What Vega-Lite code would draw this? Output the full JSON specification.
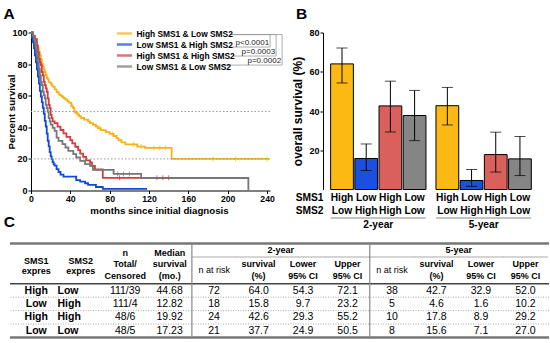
{
  "$schema": "https://vega.github.io/schema/vega-lite/v6.json",
  "padding": {"left": 3, "top": 6.5, "right": 0, "bottom": 0},
  "background": "white",
  "config": {
    "view": {"stroke": null},
    "font": "Liberation Sans",
    "axis": {"labelFont": "Liberation Sans", "titleFont": "Liberation Sans", "labelFontWeight": "bold", "titleFontWeight": "bold", "domainColor": "#000", "tickColor": "#000", "labelColor": "#000", "titleColor": "#000", "grid": false, "domainWidth": 1, "tickWidth": 1, "labelOverlap": false},
    "axisX": {"labelOverlap": false},
    "axisY": {"labelOverlap": false},
    "axisQuantitative": {"labelOverlap": false},
    "title": {"font": "Liberation Sans", "fontSize": 15.5, "fontWeight": "bold", "anchor": "start", "frame": "bounds", "color": "#000", "offset": 6},
    "text": {"font": "Liberation Sans", "color": "#000"}
  },
  "datasets": {
    "km": [
      {"group": "High SMS1 & Low SMS2", "month": 0, "survival": 100},
      {"group": "High SMS1 & Low SMS2", "month": 2, "survival": 98.2},
      {"group": "High SMS1 & Low SMS2", "month": 3, "survival": 97.3},
      {"group": "High SMS1 & Low SMS2", "month": 4, "survival": 95.5},
      {"group": "High SMS1 & Low SMS2", "month": 5, "survival": 93.7},
      {"group": "High SMS1 & Low SMS2", "month": 6, "survival": 91.9},
      {"group": "High SMS1 & Low SMS2", "month": 7, "survival": 90.1},
      {"group": "High SMS1 & Low SMS2", "month": 8, "survival": 87.4},
      {"group": "High SMS1 & Low SMS2", "month": 9, "survival": 85.6},
      {"group": "High SMS1 & Low SMS2", "month": 10, "survival": 82.9},
      {"group": "High SMS1 & Low SMS2", "month": 11, "survival": 80.2},
      {"group": "High SMS1 & Low SMS2", "month": 12, "survival": 78.4},
      {"group": "High SMS1 & Low SMS2", "month": 13, "survival": 76.6},
      {"group": "High SMS1 & Low SMS2", "month": 14, "survival": 74.8},
      {"group": "High SMS1 & Low SMS2", "month": 15, "survival": 73.0},
      {"group": "High SMS1 & Low SMS2", "month": 16, "survival": 71.2},
      {"group": "High SMS1 & Low SMS2", "month": 17, "survival": 70.3},
      {"group": "High SMS1 & Low SMS2", "month": 18, "survival": 68.5},
      {"group": "High SMS1 & Low SMS2", "month": 20, "survival": 67.6},
      {"group": "High SMS1 & Low SMS2", "month": 21, "survival": 66.7},
      {"group": "High SMS1 & Low SMS2", "month": 22, "survival": 65.8},
      {"group": "High SMS1 & Low SMS2", "month": 24, "survival": 64.0},
      {"group": "High SMS1 & Low SMS2", "month": 26, "survival": 62.2},
      {"group": "High SMS1 & Low SMS2", "month": 28, "survival": 61.3},
      {"group": "High SMS1 & Low SMS2", "month": 29, "survival": 60.4},
      {"group": "High SMS1 & Low SMS2", "month": 31, "survival": 59.5},
      {"group": "High SMS1 & Low SMS2", "month": 33, "survival": 58.5},
      {"group": "High SMS1 & Low SMS2", "month": 35, "survival": 57.5},
      {"group": "High SMS1 & Low SMS2", "month": 37, "survival": 56.4},
      {"group": "High SMS1 & Low SMS2", "month": 39, "survival": 55.4},
      {"group": "High SMS1 & Low SMS2", "month": 41, "survival": 53.3},
      {"group": "High SMS1 & Low SMS2", "month": 43, "survival": 52.2},
      {"group": "High SMS1 & Low SMS2", "month": 44, "survival": 50.1},
      {"group": "High SMS1 & Low SMS2", "month": 45, "survival": 49.1},
      {"group": "High SMS1 & Low SMS2", "month": 47, "survival": 48.0},
      {"group": "High SMS1 & Low SMS2", "month": 49, "survival": 46.9},
      {"group": "High SMS1 & Low SMS2", "month": 51, "survival": 45.9},
      {"group": "High SMS1 & Low SMS2", "month": 54, "survival": 44.8},
      {"group": "High SMS1 & Low SMS2", "month": 58, "survival": 43.7},
      {"group": "High SMS1 & Low SMS2", "month": 60, "survival": 42.7},
      {"group": "High SMS1 & Low SMS2", "month": 63, "survival": 41.6},
      {"group": "High SMS1 & Low SMS2", "month": 66, "survival": 40.5},
      {"group": "High SMS1 & Low SMS2", "month": 68, "survival": 39.4},
      {"group": "High SMS1 & Low SMS2", "month": 71, "survival": 38.2},
      {"group": "High SMS1 & Low SMS2", "month": 76, "survival": 37.0},
      {"group": "High SMS1 & Low SMS2", "month": 80, "survival": 35.8},
      {"group": "High SMS1 & Low SMS2", "month": 84, "survival": 34.5},
      {"group": "High SMS1 & Low SMS2", "month": 87, "survival": 33.2},
      {"group": "High SMS1 & Low SMS2", "month": 89, "survival": 31.8},
      {"group": "High SMS1 & Low SMS2", "month": 92, "survival": 30.5},
      {"group": "High SMS1 & Low SMS2", "month": 96, "survival": 29.2},
      {"group": "High SMS1 & Low SMS2", "month": 108, "survival": 27.8},
      {"group": "High SMS1 & Low SMS2", "month": 116, "survival": 27.0},
      {"group": "High SMS1 & Low SMS2", "month": 143, "survival": 20.0},
      {"group": "High SMS1 & Low SMS2", "month": 242, "survival": 20.0},
      {"group": "Low SMS1 & High SMS2", "month": 0, "survival": 100},
      {"group": "Low SMS1 & High SMS2", "month": 1, "survival": 96.4},
      {"group": "Low SMS1 & High SMS2", "month": 2, "survival": 93.7},
      {"group": "Low SMS1 & High SMS2", "month": 3, "survival": 90.1},
      {"group": "Low SMS1 & High SMS2", "month": 4, "survival": 85.6},
      {"group": "Low SMS1 & High SMS2", "month": 5, "survival": 81.1},
      {"group": "Low SMS1 & High SMS2", "month": 6, "survival": 76.6},
      {"group": "Low SMS1 & High SMS2", "month": 7, "survival": 72.1},
      {"group": "Low SMS1 & High SMS2", "month": 8, "survival": 67.6},
      {"group": "Low SMS1 & High SMS2", "month": 9, "survival": 63.1},
      {"group": "Low SMS1 & High SMS2", "month": 10, "survival": 59.5},
      {"group": "Low SMS1 & High SMS2", "month": 11, "survival": 55.9},
      {"group": "Low SMS1 & High SMS2", "month": 12, "survival": 52.3},
      {"group": "Low SMS1 & High SMS2", "month": 13, "survival": 48.6},
      {"group": "Low SMS1 & High SMS2", "month": 14, "survival": 44.1},
      {"group": "Low SMS1 & High SMS2", "month": 15, "survival": 40.5},
      {"group": "Low SMS1 & High SMS2", "month": 16, "survival": 36.0},
      {"group": "Low SMS1 & High SMS2", "month": 17, "survival": 31.5},
      {"group": "Low SMS1 & High SMS2", "month": 18, "survival": 27.9},
      {"group": "Low SMS1 & High SMS2", "month": 19, "survival": 24.3},
      {"group": "Low SMS1 & High SMS2", "month": 20, "survival": 21.6},
      {"group": "Low SMS1 & High SMS2", "month": 21, "survival": 19.8},
      {"group": "Low SMS1 & High SMS2", "month": 22, "survival": 18.0},
      {"group": "Low SMS1 & High SMS2", "month": 23, "survival": 16.7},
      {"group": "Low SMS1 & High SMS2", "month": 24, "survival": 15.8},
      {"group": "Low SMS1 & High SMS2", "month": 26, "survival": 13.5},
      {"group": "Low SMS1 & High SMS2", "month": 28, "survival": 11.7},
      {"group": "Low SMS1 & High SMS2", "month": 30, "survival": 10.0},
      {"group": "Low SMS1 & High SMS2", "month": 33, "survival": 8.8},
      {"group": "Low SMS1 & High SMS2", "month": 46, "survival": 6.6},
      {"group": "Low SMS1 & High SMS2", "month": 50, "survival": 5.6},
      {"group": "Low SMS1 & High SMS2", "month": 55, "survival": 4.6},
      {"group": "Low SMS1 & High SMS2", "month": 58, "survival": 3.5},
      {"group": "Low SMS1 & High SMS2", "month": 66, "survival": 2.2},
      {"group": "Low SMS1 & High SMS2", "month": 73, "survival": 1.0},
      {"group": "Low SMS1 & High SMS2", "month": 118, "survival": 1.0},
      {"group": "High SMS1 & High SMS2", "month": 0, "survival": 100},
      {"group": "High SMS1 & High SMS2", "month": 2, "survival": 97.9},
      {"group": "High SMS1 & High SMS2", "month": 4, "survival": 95.8},
      {"group": "High SMS1 & High SMS2", "month": 6, "survival": 91.7},
      {"group": "High SMS1 & High SMS2", "month": 7, "survival": 87.5},
      {"group": "High SMS1 & High SMS2", "month": 8, "survival": 83.3},
      {"group": "High SMS1 & High SMS2", "month": 9, "survival": 81.3},
      {"group": "High SMS1 & High SMS2", "month": 10, "survival": 79.2},
      {"group": "High SMS1 & High SMS2", "month": 11, "survival": 75.0},
      {"group": "High SMS1 & High SMS2", "month": 12, "survival": 72.9},
      {"group": "High SMS1 & High SMS2", "month": 13, "survival": 68.8},
      {"group": "High SMS1 & High SMS2", "month": 14, "survival": 66.7},
      {"group": "High SMS1 & High SMS2", "month": 15, "survival": 64.6},
      {"group": "High SMS1 & High SMS2", "month": 16, "survival": 62.5},
      {"group": "High SMS1 & High SMS2", "month": 17, "survival": 58.3},
      {"group": "High SMS1 & High SMS2", "month": 18, "survival": 54.2},
      {"group": "High SMS1 & High SMS2", "month": 19, "survival": 52.1},
      {"group": "High SMS1 & High SMS2", "month": 20, "survival": 47.9},
      {"group": "High SMS1 & High SMS2", "month": 21, "survival": 45.8},
      {"group": "High SMS1 & High SMS2", "month": 22, "survival": 43.8},
      {"group": "High SMS1 & High SMS2", "month": 24, "survival": 42.6},
      {"group": "High SMS1 & High SMS2", "month": 27, "survival": 40.4},
      {"group": "High SMS1 & High SMS2", "month": 30, "survival": 38.3},
      {"group": "High SMS1 & High SMS2", "month": 33, "survival": 36.2},
      {"group": "High SMS1 & High SMS2", "month": 36, "survival": 34.0},
      {"group": "High SMS1 & High SMS2", "month": 40, "survival": 31.9},
      {"group": "High SMS1 & High SMS2", "month": 42, "survival": 29.8},
      {"group": "High SMS1 & High SMS2", "month": 45, "survival": 27.7},
      {"group": "High SMS1 & High SMS2", "month": 48, "survival": 25.5},
      {"group": "High SMS1 & High SMS2", "month": 50, "survival": 23.4},
      {"group": "High SMS1 & High SMS2", "month": 53, "survival": 21.3},
      {"group": "High SMS1 & High SMS2", "month": 56, "survival": 19.1},
      {"group": "High SMS1 & High SMS2", "month": 60, "survival": 17.8},
      {"group": "High SMS1 & High SMS2", "month": 62, "survival": 15.6},
      {"group": "High SMS1 & High SMS2", "month": 65, "survival": 13.3},
      {"group": "High SMS1 & High SMS2", "month": 73, "survival": 8.0},
      {"group": "High SMS1 & High SMS2", "month": 155, "survival": 8.0},
      {"group": "Low SMS1 & Low SMS2", "month": 0, "survival": 100},
      {"group": "Low SMS1 & Low SMS2", "month": 2, "survival": 97.9},
      {"group": "Low SMS1 & Low SMS2", "month": 3, "survival": 95.8},
      {"group": "Low SMS1 & Low SMS2", "month": 4, "survival": 93.8},
      {"group": "Low SMS1 & Low SMS2", "month": 5, "survival": 89.6},
      {"group": "Low SMS1 & Low SMS2", "month": 6, "survival": 85.4},
      {"group": "Low SMS1 & Low SMS2", "month": 7, "survival": 81.3},
      {"group": "Low SMS1 & Low SMS2", "month": 8, "survival": 77.1},
      {"group": "Low SMS1 & Low SMS2", "month": 9, "survival": 72.9},
      {"group": "Low SMS1 & Low SMS2", "month": 10, "survival": 68.8},
      {"group": "Low SMS1 & Low SMS2", "month": 11, "survival": 66.7},
      {"group": "Low SMS1 & Low SMS2", "month": 12, "survival": 62.5},
      {"group": "Low SMS1 & Low SMS2", "month": 13, "survival": 60.4},
      {"group": "Low SMS1 & Low SMS2", "month": 14, "survival": 58.3},
      {"group": "Low SMS1 & Low SMS2", "month": 15, "survival": 54.2},
      {"group": "Low SMS1 & Low SMS2", "month": 16, "survival": 52.1},
      {"group": "Low SMS1 & Low SMS2", "month": 17, "survival": 50.0},
      {"group": "Low SMS1 & Low SMS2", "month": 18, "survival": 45.8},
      {"group": "Low SMS1 & Low SMS2", "month": 19, "survival": 43.8},
      {"group": "Low SMS1 & Low SMS2", "month": 20, "survival": 41.7},
      {"group": "Low SMS1 & Low SMS2", "month": 22, "survival": 39.6},
      {"group": "Low SMS1 & Low SMS2", "month": 24, "survival": 37.7},
      {"group": "Low SMS1 & Low SMS2", "month": 26, "survival": 33.5},
      {"group": "Low SMS1 & Low SMS2", "month": 28, "survival": 31.4},
      {"group": "Low SMS1 & Low SMS2", "month": 32, "survival": 29.3},
      {"group": "Low SMS1 & Low SMS2", "month": 35, "survival": 27.2},
      {"group": "Low SMS1 & Low SMS2", "month": 38, "survival": 25.1},
      {"group": "Low SMS1 & Low SMS2", "month": 43, "survival": 23.0},
      {"group": "Low SMS1 & Low SMS2", "month": 46, "survival": 20.9},
      {"group": "Low SMS1 & Low SMS2", "month": 50, "survival": 18.8},
      {"group": "Low SMS1 & Low SMS2", "month": 55, "survival": 16.7},
      {"group": "Low SMS1 & Low SMS2", "month": 60, "survival": 15.6},
      {"group": "Low SMS1 & Low SMS2", "month": 63, "survival": 13.1},
      {"group": "Low SMS1 & Low SMS2", "month": 84, "survival": 10.5},
      {"group": "Low SMS1 & Low SMS2", "month": 112, "survival": 7.9},
      {"group": "Low SMS1 & Low SMS2", "month": 221, "survival": 0}
    ],
    "censored": [
      {"group": "High SMS1 & Low SMS2", "month": 42, "survival": 53.3},
      {"group": "High SMS1 & Low SMS2", "month": 48, "survival": 48.0},
      {"group": "High SMS1 & Low SMS2", "month": 70, "survival": 39.4},
      {"group": "High SMS1 & Low SMS2", "month": 83, "survival": 35.8},
      {"group": "High SMS1 & Low SMS2", "month": 104, "survival": 29.2},
      {"group": "High SMS1 & Low SMS2", "month": 112, "survival": 27.8},
      {"group": "High SMS1 & Low SMS2", "month": 125, "survival": 27.0},
      {"group": "High SMS1 & Low SMS2", "month": 131, "survival": 27.0},
      {"group": "High SMS1 & Low SMS2", "month": 137, "survival": 27.0},
      {"group": "High SMS1 & Low SMS2", "month": 185, "survival": 20.0},
      {"group": "High SMS1 & Low SMS2", "month": 208, "survival": 20.0},
      {"group": "High SMS1 & Low SMS2", "month": 240, "survival": 20.0},
      {"group": "High SMS1 & High SMS2", "month": 90, "survival": 8.0},
      {"group": "High SMS1 & High SMS2", "month": 128, "survival": 8.0},
      {"group": "High SMS1 & High SMS2", "month": 134, "survival": 8.0},
      {"group": "High SMS1 & High SMS2", "month": 140, "survival": 8.0},
      {"group": "Low SMS1 & Low SMS2", "month": 88, "survival": 10.5},
      {"group": "Low SMS1 & Low SMS2", "month": 94, "survival": 10.5},
      {"group": "Low SMS1 & Low SMS2", "month": 100, "survival": 10.5}
    ],
    "brackets": [
      {"pvalue": "p<0.0001", "top": 98.7, "yLine": 90.8, "xTopStart": 202.4, "xLabelEnd": 199.4, "xBracket": 243.1},
      {"pvalue": "p=0.0003", "top": 98.7, "yLine": 85.1, "xTopStart": 202.4, "xLabelEnd": 205.5, "xBracket": 249.2},
      {"pvalue": "p=0.0002", "top": 98.7, "yLine": 79.4, "xTopStart": 202.4, "xLabelEnd": 195.3, "xBracket": 255.3}
    ],
    "bars": [
      {"period": "2-year", "group": "High SMS1 & Low SMS2", "sms1": "High", "sms2": "Low", "survival": 64.0, "lower": 54.3, "upper": 72.1},
      {"period": "2-year", "group": "Low SMS1 & High SMS2", "sms1": "Low", "sms2": "High", "survival": 15.8, "lower": 9.7, "upper": 23.2},
      {"period": "2-year", "group": "High SMS1 & High SMS2", "sms1": "High", "sms2": "High", "survival": 42.6, "lower": 29.3, "upper": 55.2},
      {"period": "2-year", "group": "Low SMS1 & Low SMS2", "sms1": "Low", "sms2": "Low", "survival": 37.7, "lower": 24.9, "upper": 50.5},
      {"period": "5-year", "group": "High SMS1 & Low SMS2", "sms1": "High", "sms2": "Low", "survival": 42.7, "lower": 32.9, "upper": 52.0},
      {"period": "5-year", "group": "Low SMS1 & High SMS2", "sms1": "Low", "sms2": "High", "survival": 4.6, "lower": 1.6, "upper": 10.2},
      {"period": "5-year", "group": "High SMS1 & High SMS2", "sms1": "High", "sms2": "High", "survival": 17.8, "lower": 8.9, "upper": 29.2},
      {"period": "5-year", "group": "Low SMS1 & Low SMS2", "sms1": "Low", "sms2": "Low", "survival": 15.6, "lower": 7.1, "upper": 27.0}
    ],
    "cells": [
      {"row": "grp", "col": "l2", "text": "2-year"},
      {"row": "grp", "col": "l5", "text": "5-year"},
      {"row": "hdr", "col": "sms1", "text": "SMS1\nexpres"},
      {"row": "hdr", "col": "sms2", "text": "SMS2\nexpres"},
      {"row": "hdr", "col": "n", "text": "n\nTotal/\nCensored"},
      {"row": "hdr", "col": "median", "text": "Median\nsurvival\n(mo.)"},
      {"row": "hdr", "col": "n2", "text": "n at risk"},
      {"row": "hdr", "col": "s2", "text": "survival\n(%)"},
      {"row": "hdr", "col": "l2", "text": "Lower\n95% CI"},
      {"row": "hdr", "col": "u2", "text": "Upper\n95% CI"},
      {"row": "hdr", "col": "n5", "text": "n at risk"},
      {"row": "hdr", "col": "s5", "text": "survival\n(%)"},
      {"row": "hdr", "col": "l5", "text": "Lower\n95% CI"},
      {"row": "hdr", "col": "u5", "text": "Upper\n95% CI"},
      {"row": "r1", "col": "sms1", "text": "High"},
      {"row": "r1", "col": "sms2", "text": "Low"},
      {"row": "r1", "col": "n", "text": "111/39"},
      {"row": "r1", "col": "median", "text": "44.68"},
      {"row": "r1", "col": "n2", "text": "72"},
      {"row": "r1", "col": "s2", "text": "64.0"},
      {"row": "r1", "col": "l2", "text": "54.3"},
      {"row": "r1", "col": "u2", "text": "72.1"},
      {"row": "r1", "col": "n5", "text": "38"},
      {"row": "r1", "col": "s5", "text": "42.7"},
      {"row": "r1", "col": "l5", "text": "32.9"},
      {"row": "r1", "col": "u5", "text": "52.0"},
      {"row": "r2", "col": "sms1", "text": "Low"},
      {"row": "r2", "col": "sms2", "text": "High"},
      {"row": "r2", "col": "n", "text": "111/4"},
      {"row": "r2", "col": "median", "text": "12.82"},
      {"row": "r2", "col": "n2", "text": "18"},
      {"row": "r2", "col": "s2", "text": "15.8"},
      {"row": "r2", "col": "l2", "text": "9.7"},
      {"row": "r2", "col": "u2", "text": "23.2"},
      {"row": "r2", "col": "n5", "text": "5"},
      {"row": "r2", "col": "s5", "text": "4.6"},
      {"row": "r2", "col": "l5", "text": "1.6"},
      {"row": "r2", "col": "u5", "text": "10.2"},
      {"row": "r3", "col": "sms1", "text": "High"},
      {"row": "r3", "col": "sms2", "text": "High"},
      {"row": "r3", "col": "n", "text": "48/6"},
      {"row": "r3", "col": "median", "text": "19.92"},
      {"row": "r3", "col": "n2", "text": "24"},
      {"row": "r3", "col": "s2", "text": "42.6"},
      {"row": "r3", "col": "l2", "text": "29.3"},
      {"row": "r3", "col": "u2", "text": "55.2"},
      {"row": "r3", "col": "n5", "text": "10"},
      {"row": "r3", "col": "s5", "text": "17.8"},
      {"row": "r3", "col": "l5", "text": "8.9"},
      {"row": "r3", "col": "u5", "text": "29.2"},
      {"row": "r4", "col": "sms1", "text": "Low"},
      {"row": "r4", "col": "sms2", "text": "Low"},
      {"row": "r4", "col": "n", "text": "48/5"},
      {"row": "r4", "col": "median", "text": "17.23"},
      {"row": "r4", "col": "n2", "text": "21"},
      {"row": "r4", "col": "s2", "text": "37.7"},
      {"row": "r4", "col": "l2", "text": "24.9"},
      {"row": "r4", "col": "u2", "text": "50.5"},
      {"row": "r4", "col": "n5", "text": "8"},
      {"row": "r4", "col": "s5", "text": "15.6"},
      {"row": "r4", "col": "l5", "text": "7.1"},
      {"row": "r4", "col": "u5", "text": "27.0"}
    ]
  },
  "vconcat": [
    {
      "spacing": -8,
      "hconcat": [
        {
          "width": 1,
          "height": 1,
          "data": {"name": "bars"},
          "transform": [{"filter": "false"}],
          "mark": {"type": "point", "opacity": 0},
          "encoding": {}
        },
        {
          "spacing": 8,
          "hconcat": [
            {
              "width": 239,
              "height": 158,
              "title": {"text": "A", "dx": -3},
              "encoding": {
                "x": {"type": "quantitative", "scale": {"domain": [0, 243], "nice": false},
                  "axis": {"values": [0, 40, 80, 120, 160, 200, 240], "title": "months since initial diagnosis", "labelFontSize": 8.7, "titleFontSize": 9.7, "tickSize": 3, "labelPadding": 1, "titlePadding": 2, "titleX": 128, "labelFlush": false, "labelOverlap": false, "labelBound": false}},
                "y": {"type": "quantitative", "scale": {"domain": [0, 100], "nice": false},
                  "axis": {"values": [0, 20, 40, 60, 80, 100], "title": "Percent survival", "labelFontSize": 9, "titleFontSize": 9.7, "tickSize": 3, "labelPadding": 1, "titlePadding": -4.5, "labelOverlap": false, "labelBound": false}}
              },
              "layer": [
                {
                  "data": {"name": "km"},
                  "mark": {"type": "line", "interpolate": "step-after", "strokeWidth": 1.8},
                  "encoding": {
                    "x": {"field": "month", "type": "quantitative"},
                    "y": {"field": "survival", "type": "quantitative"},
                    "color": {"field": "group", "type": "nominal",
                      "scale": {"domain": ["High SMS1 & Low SMS2", "Low SMS1 & High SMS2", "High SMS1 & High SMS2", "Low SMS1 & Low SMS2"], "range": ["#F5B21A", "#1247DB", "#D33C3C", "#777777"]},
                      "legend": {"orient": "none", "legendX": 88, "legendY": -4.5, "title": null, "symbolType": "M-1.9,0H1.9", "symbolStrokeWidth": 2.5, "symbolSize": 64, "labelFontSize": 8.4, "labelFontWeight": "bold", "labelFont": "Liberation Sans", "labelColor": "#000", "rowPadding": -2.5, "labelOffset": 6.5, "labelLimit": 0, "padding": 0}}
                  }
                },
                {
                  "data": {"name": "km"},
                  "transform": [{"filter": "datum.month == 0 && datum.group == 'High SMS1 & Low SMS2'"}],
                  "mark": {"type": "rule", "color": "#9a9a9a", "strokeDash": [1.5, 2], "strokeWidth": 1},
                  "encoding": {"x": null, "y": {"datum": 50, "type": "quantitative"}}
                },
                {
                  "data": {"name": "km"},
                  "transform": [{"filter": "datum.month == 0 && datum.group == 'High SMS1 & Low SMS2'"}],
                  "mark": {"type": "rule", "color": "#9a9a9a", "strokeDash": [1.5, 2], "strokeWidth": 1},
                  "encoding": {"x": null, "y": {"datum": 20, "type": "quantitative"}}
                },
                {
                  "data": {"name": "censored"},
                  "mark": {"type": "tick", "orient": "vertical", "size": 5, "thickness": 1},
                  "encoding": {
                    "x": {"field": "month", "type": "quantitative"},
                    "y": {"field": "survival", "type": "quantitative"},
                    "color": {"field": "group", "type": "nominal"}
                  }
                },
                {
                  "data": {"name": "brackets"},
                  "mark": {"type": "rule", "color": "#999", "strokeWidth": 0.8},
                  "encoding": {"x": {"field": "xBracket", "type": "quantitative"}, "y": {"field": "top", "type": "quantitative"}, "y2": {"field": "yLine"}}
                },
                {
                  "data": {"name": "brackets"},
                  "mark": {"type": "rule", "color": "#999", "strokeWidth": 0.8},
                  "encoding": {"x": {"field": "xLabelEnd", "type": "quantitative"}, "x2": {"field": "xBracket"}, "y": {"field": "yLine", "type": "quantitative"}}
                },
                {
                  "data": {"name": "brackets"},
                  "mark": {"type": "rule", "color": "#999", "strokeWidth": 0.8},
                  "encoding": {"x": {"field": "xTopStart", "type": "quantitative"}, "x2": {"field": "xBracket"}, "y": {"field": "top", "type": "quantitative"}}
                },
                {
                  "data": {"name": "brackets"},
                  "mark": {"type": "text", "align": "right", "baseline": "bottom", "dx": -1, "dy": -0.5, "fontSize": 8, "color": "#222"},
                  "encoding": {"x": {"field": "xBracket", "type": "quantitative"}, "y": {"field": "yLine", "type": "quantitative"}, "text": {"field": "pvalue"}}
                }
              ]
            },
            {
              "bounds": "flush",
              "spacing": 1.5,
              "vconcat": [
                {
                  "width": 211,
                  "height": 157,
                  "title": {"text": "B", "dx": 4},
                  "data": {"name": "bars"},
                  "encoding": {
                    "x": {"field": "period", "type": "nominal", "scale": {"paddingInner": 0.095, "paddingOuter": 0.049, "align": 0.74}, "axis": null},
                    "xOffset": {"field": "group", "type": "nominal", "scale": {"domain": ["High SMS1 & Low SMS2", "Low SMS1 & High SMS2", "High SMS1 & High SMS2", "Low SMS1 & Low SMS2"], "paddingInner": 0.06, "paddingOuter": 0}}
                  },
                  "layer": [
                    {
                      "mark": {"type": "bar", "stroke": "#000", "strokeWidth": 1},
                      "encoding": {
                        "y": {"field": "survival", "type": "quantitative", "scale": {"domain": [0, 80], "nice": false},
                          "axis": {"values": [20, 40, 60, 80], "title": "overall survival (%)", "titleFontSize": 12, "labelFontSize": 9, "tickSize": 3, "labelPadding": 1, "titlePadding": 4, "labelOverlap": false}},
                        "color": {"field": "group", "type": "nominal", "scale": {"domain": ["High SMS1 & Low SMS2", "Low SMS1 & High SMS2", "High SMS1 & High SMS2", "Low SMS1 & Low SMS2"], "range": ["#FDB913", "#1A4FE0", "#D9605B", "#858585"]}, "legend": null}
                      }
                    },
                    {
                      "mark": {"type": "rule", "color": "#000", "strokeWidth": 1},
                      "encoding": {"y": {"field": "lower", "type": "quantitative"}, "y2": {"field": "upper"}}
                    },
                    {
                      "mark": {"type": "tick", "orient": "horizontal", "size": 11, "thickness": 1, "color": "#000"},
                      "encoding": {"y": {"field": "lower", "type": "quantitative"}}
                    },
                    {
                      "mark": {"type": "tick", "orient": "horizontal", "size": 11, "thickness": 1, "color": "#000"},
                      "encoding": {"y": {"field": "upper", "type": "quantitative"}}
                    }
                  ]
                },
                {
                  "width": 211,
                  "height": 40.5,
                  "data": {"name": "bars"},
                  "encoding": {
                    "x": {"field": "period", "type": "nominal", "scale": {"paddingInner": 0.095, "paddingOuter": 0.049, "align": 0.74}, "axis": null}
                  },
                  "layer": [
                    {
                      "mark": {"type": "text", "fontSize": 10.2, "fontWeight": "bold", "baseline": "middle"},
                      "encoding": {
                        "xOffset": {"field": "group", "type": "nominal", "scale": {"domain": ["High SMS1 & Low SMS2", "Low SMS1 & High SMS2", "High SMS1 & High SMS2", "Low SMS1 & Low SMS2"], "paddingInner": 0.06, "paddingOuter": 0}},
                        "y": {"datum": "SMS1", "type": "nominal", "scale": {"domain": ["SMS1", "SMS2", "period"], "paddingInner": 0, "paddingOuter": 0},
                          "axis": {"domain": false, "ticks": false, "tickSize": 0, "labelPadding": 0, "title": null, "labelFontSize": 10.2, "labelOverlap": false, "labelExpr": "datum.value == 'period' ? '' : datum.value"}},
                        "text": {"field": "sms1"}
                      }
                    },
                    {
                      "mark": {"type": "text", "fontSize": 10.2, "fontWeight": "bold", "baseline": "middle"},
                      "encoding": {
                        "xOffset": {"field": "group", "type": "nominal"},
                        "y": {"datum": "SMS2", "type": "nominal"},
                        "text": {"field": "sms2"}
                      }
                    },
                    {
                      "transform": [{"aggregate": [{"op": "count", "as": "n"}], "groupby": ["period"]}],
                      "mark": {"type": "text", "fontSize": 10.2, "fontWeight": "bold", "baseline": "middle"},
                      "encoding": {"y": {"datum": "period", "type": "nominal"}, "text": {"field": "period"}}
                    },
                    {
                      "transform": [{"aggregate": [{"op": "count", "as": "n"}], "groupby": ["period"]}],
                      "mark": {"type": "tick", "orient": "horizontal", "size": 95, "thickness": 1, "color": "#555"},
                      "encoding": {"y": {"datum": "period", "type": "nominal", "bandPosition": 0}}
                    }
                  ]
                }
              ],
              "resolve": {"scale": {"color": "independent"}}
            }
          ],
          "resolve": {"scale": {"color": "independent", "x": "independent", "y": "independent"}}
        }
      ],
      "resolve": {"scale": {"color": "independent", "x": "independent", "y": "independent"}}
    },
    {
      "width": 539,
      "height": 94,
      "title": {"text": "C", "dx": -5, "offset": 12},
      "data": {"name": "cells"},
      "layer": [
        {
          "transform": [{"filter": "indexof(['r1','r2','r3','r4'], datum.row) >= 0 && datum.col != 'sms1' && datum.col != 'sms2'"}],
          "mark": {"type": "text", "fontSize": 10.5, "baseline": "middle"},
          "encoding": {
            "x": {"field": "col", "type": "nominal", "scale": {"domain": ["sms1", "sms2", "n", "median", "n2", "s2", "l2", "u2", "n5", "s5", "l5", "u5"], "paddingInner": 0, "paddingOuter": 0.06, "align": 0.75}, "axis": null},
            "y": {"field": "row", "type": "nominal", "scale": {"domain": ["grp", "hdr", "hdr2", "r1", "r2", "r3", "r4"], "paddingInner": 0, "paddingOuter": 0}, "axis": null},
            "text": {"field": "text"}
          }
        },
        {
          "transform": [{"filter": "indexof(['r1','r2','r3','r4'], datum.row) >= 0 && datum.col == 'sms1'"}],
          "mark": {"type": "text", "fontSize": 10.5, "fontWeight": "bold", "baseline": "middle"},
          "encoding": {"x": {"field": "col", "type": "nominal"}, "y": {"field": "row", "type": "nominal"}, "text": {"field": "text"}}
        },
        {
          "transform": [{"filter": "indexof(['r1','r2','r3','r4'], datum.row) >= 0 && datum.col == 'sms2'"}],
          "mark": {"type": "text", "fontSize": 10.5, "fontWeight": "bold", "baseline": "middle", "align": "left", "dx": -1},
          "encoding": {"x": {"field": "col", "type": "nominal", "bandPosition": 0}, "y": {"field": "row", "type": "nominal"}, "text": {"field": "text"}}
        },
        {
          "transform": [{"filter": "datum.row == 'hdr' && (datum.col == 'sms1' || datum.col == 'sms2')"}],
          "mark": {"type": "text", "fontSize": 9, "fontWeight": "bold", "baseline": "middle", "lineBreak": "\n", "lineHeight": 10, "dy": -3},
          "encoding": {"x": {"field": "col", "type": "nominal"}, "y": {"field": "row", "type": "nominal"}, "text": {"field": "text"}}
        },
        {
          "transform": [{"filter": "datum.row == 'hdr' && (datum.col == 'n' || datum.col == 'median')"}],
          "mark": {"type": "text", "fontSize": 9, "fontWeight": "bold", "baseline": "middle", "lineBreak": "\n", "lineHeight": 11.5, "dy": -11},
          "encoding": {"x": {"field": "col", "type": "nominal"}, "y": {"field": "row", "type": "nominal"}, "text": {"field": "text"}}
        },
        {
          "transform": [{"filter": "datum.row == 'hdr' && indexof(['s2','l2','u2','s5','l5','u5'], datum.col) >= 0"}],
          "mark": {"type": "text", "fontSize": 9, "fontWeight": "bold", "baseline": "middle", "lineBreak": "\n", "lineHeight": 12},
          "encoding": {"x": {"field": "col", "type": "nominal"}, "y": {"field": "row", "type": "nominal"}, "text": {"field": "text"}}
        },
        {
          "transform": [{"filter": "datum.row == 'hdr' && (datum.col == 'n2' || datum.col == 'n5')"}],
          "mark": {"type": "text", "fontSize": 9, "baseline": "middle"},
          "encoding": {"x": {"field": "col", "type": "nominal"}, "y": {"field": "row", "type": "nominal", "bandPosition": 1}, "text": {"field": "text"}}
        },
        {
          "transform": [{"filter": "datum.row == 'grp'"}],
          "mark": {"type": "text", "fontSize": 9, "fontWeight": "bold", "baseline": "middle"},
          "encoding": {"x": {"field": "col", "type": "nominal", "bandPosition": 0}, "y": {"field": "row", "type": "nominal"}, "text": {"field": "text"}}
        },
        {
          "transform": [{"filter": "datum.row == 'grp' && datum.col == 'l2'"}],
          "mark": {"type": "rule", "color": "#777", "strokeWidth": 2.5},
          "encoding": {"y": {"datum": "grp", "type": "nominal", "bandPosition": 0}}
        },
        {
          "transform": [{"filter": "datum.row == 'grp' && datum.col == 'l2'"}],
          "mark": {"type": "rule", "color": "#444", "strokeWidth": 1.5},
          "encoding": {"y": {"datum": "r1", "type": "nominal", "bandPosition": 0}}
        },
        {
          "transform": [{"filter": "datum.row == 'grp' && datum.col == 'l2'"}],
          "mark": {"type": "rule", "color": "#777", "strokeWidth": 2.5},
          "encoding": {"y": {"datum": "r4", "type": "nominal", "bandPosition": 1}}
        },
        {
          "transform": [{"filter": "indexof(['r2','r3','r4'], datum.row) >= 0 && datum.col == 'sms1'"}],
          "mark": {"type": "rule", "color": "#aaa", "strokeWidth": 1, "strokeDash": [1, 1.5]},
          "encoding": {"y": {"field": "row", "type": "nominal", "bandPosition": 0}}
        },
        {
          "transform": [{"filter": "datum.row == 'hdr' && indexof(['n2','s2','l2','u2','n5','s5','l5','u5'], datum.col) >= 0"}],
          "mark": {"type": "tick", "orient": "horizontal", "size": 45, "thickness": 1, "color": "#888"},
          "encoding": {"x": {"field": "col", "type": "nominal"}, "y": {"datum": "hdr", "type": "nominal", "bandPosition": 0}}
        },
        {
          "transform": [{"filter": "datum.row == 'hdr' && (datum.col == 'n2' || datum.col == 'n5')"}],
          "mark": {"type": "rule", "color": "#888", "strokeWidth": 1.2},
          "encoding": {"x": {"field": "col", "type": "nominal", "bandPosition": 0}}
        }
      ]
    }
  ],
  "spacing": -17,
  "resolve": {"scale": {"color": "independent", "x": "independent", "y": "independent"}}
}
